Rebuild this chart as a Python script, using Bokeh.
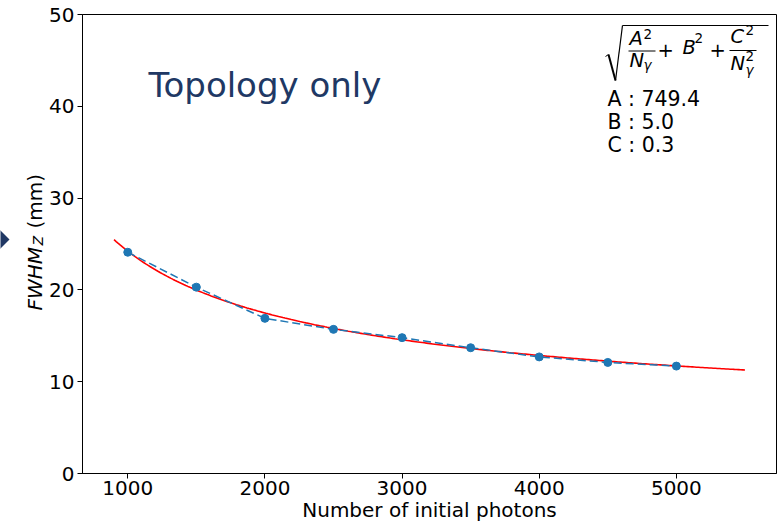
import numpy as np
from bokeh.plotting import figure
from bokeh.layouts import row
from bokeh.models import Range1d, FixedTicker, Label, PolyAnnotation
from bokeh.embed import file_html
from bokeh.resources import INLINE

# Measured resolution vs. number of initial photons
photons = [1000, 1500, 2000, 2500, 3000, 3500, 4000, 4500, 5000]
fwhm_z = [24.1, 20.3, 16.9, 15.7, 14.8, 13.7, 12.7, 12.1, 11.7]

# Fit parameters of sqrt(A^2/N + B^2 + C^2/N^2)
fit_A = 749.4
fit_B = 5.0
fit_C = 0.3
fit_start, fit_stop = 900, 5500

x_ticks = [1000, 2000, 3000, 4000, 5000]
y_ticks = [0, 10, 20, 30, 40, 50]

FONT = "DejaVu Sans"
NAVY = "#203864"
LIFT = 8  # baseline correction for alphabetic labels
SIDE_W = 46


def add_text(fig, text, x, y, size, italic=False, angle=0.0, align="left", color="black"):
    fig.add_layout(Label(x=x, y=y, x_units="screen", y_units="screen", text=text,
                         text_font=FONT, text_font_size=f"{size}px",
                         text_font_style="italic" if italic else "normal",
                         text_align=align, text_baseline="alphabetic",
                         angle=angle, text_color=color))


def add_stroke(fig, points, width=1.0, color="black", fill=None):
    xs = [pt[0] for pt in points]
    ys = [pt[1] for pt in points]
    fig.add_layout(PolyAnnotation(xs=xs, ys=ys, xs_units="screen", ys_units="screen",
                                  line_color=color if fill is None else None,
                                  line_alpha=1.0, line_width=width,
                                  fill_color=fill, fill_alpha=0 if fill is None else 1))


# ---- narrow strip on the left: y-axis title and slide arrow ----
# (its frame is aligned with the chart frame: same top and bottom)
side = figure(width=SIDE_W, height=525, output_backend="svg", toolbar_location=None,
              x_range=Range1d(0, SIDE_W), y_range=Range1d(0, 459),
              x_axis_location=None, y_axis_location=None, min_border=0)
side.outline_line_color = None
side.xgrid.visible = False
side.ygrid.visible = False
side.background_fill_color = "white"
side.border_fill_color = "white"

add_text(side, "FWHM", 42 - LIFT, 163, 20, italic=True, angle=np.pi / 2)
add_text(side, "Z", 45 - LIFT, 228, 14, italic=True, angle=np.pi / 2)
add_text(side, "(mm)", 42 - LIFT, 245, 20, angle=np.pi / 2)
add_stroke(side, [(-20, 263), (9, 234), (-20, 205)], fill=NAVY)

# ---- main chart ----
p = figure(width=784 - SIDE_W, height=525, output_backend="svg", toolbar_location=None,
           x_range=Range1d(670, 5730), y_range=Range1d(0, 50),
           min_border_left=82 - SIDE_W, min_border_right=8, min_border_top=14,
           min_border_bottom=52)
p.background_fill_color = "white"
p.border_fill_color = "white"
p.outline_line_color = "black"
p.outline_line_width = 1
p.xgrid.visible = False
p.ygrid.visible = False

for ax in (p.xaxis[0], p.yaxis[0]):
    ax.axis_line_color = "black"
    ax.major_tick_line_color = "black"
    ax.major_tick_out = 5
    ax.major_tick_in = 0
    ax.minor_tick_out = 0
    ax.minor_tick_in = 0
    ax.major_label_text_font = FONT
    ax.major_label_text_font_size = "20px"
    ax.major_label_text_color = "black"
p.xaxis[0].ticker = FixedTicker(ticks=x_ticks)
p.yaxis[0].ticker = FixedTicker(ticks=y_ticks)
p.xaxis[0].major_label_standoff = 2
p.yaxis[0].major_label_standoff = 3
p.xaxis[0].axis_label = "Number of initial photons"
p.xaxis[0].axis_label_text_font = FONT
p.xaxis[0].axis_label_text_font_size = "20px"
p.xaxis[0].axis_label_text_font_style = "normal"
p.xaxis[0].axis_label_text_color = "black"
p.xaxis[0].axis_label_standoff = 0

# fitted curve from the stated parameters
n_fit = np.linspace(fit_start, fit_stop, 300)
fwhm_fit = np.sqrt(fit_A ** 2 / n_fit + fit_B ** 2 + fit_C ** 2 / n_fit ** 2)
p.line(n_fit, fwhm_fit, line_color="#ff0000", line_width=1.6)

# measurements
p.line(photons, fwhm_z, line_color="#1f77b4", line_width=1.5, line_dash="8 4")
p.scatter(photons, fwhm_z, size=8, fill_color="#1f77b4", line_color="#1f77b4")

# slide caption
add_text(p, "Topology only", 66, 381 + LIFT, 34, color=NAVY)

# fit formula: radical sign
add_stroke(p, [(523, 417), (526, 419)], width=1.0)
add_stroke(p, [(526, 419), (533, 393)], width=2.0)
add_stroke(p, [(533, 393), (540, 448)], width=1.2)
add_stroke(p, [(540, 448), (686, 448)], width=1.0)

# first fraction A^2 / N_gamma
add_text(p, "A", 547, 427 + LIFT, 19.5, italic=True)
add_text(p, "2", 561, 432 + LIFT, 13.5)
add_stroke(p, [(546, 422.5), (573, 422.5)], width=1.0)
add_text(p, "N", 547, 405 + LIFT, 19.5, italic=True)
add_text(p, "γ", 561, 401 + LIFT, 13.5, italic=True)

add_text(p, "+", 575, 416 + LIFT, 19.5)
add_text(p, "B", 600, 418 + LIFT, 19.5, italic=True)
add_text(p, "2", 612, 428 + LIFT, 13.5)
add_text(p, "+", 627, 416 + LIFT, 19.5)

# second fraction C^2 / N_gamma^2
add_text(p, "C", 648, 429 + LIFT, 19.5, italic=True)
add_text(p, "2", 663, 436 + LIFT, 13.5)
add_stroke(p, [(647, 423), (674, 423)], width=1.0)
add_text(p, "N", 648, 402 + LIFT, 19.5, italic=True)
add_text(p, "2", 663, 410 + LIFT, 13.5)
add_text(p, "γ", 663, 396 + LIFT, 13.5, italic=True)

# fitted parameter values
add_text(p, f"A : {fit_A:.1f}", 525, 367 + LIFT, 20.5)
add_text(p, f"B : {fit_B:.1f}", 525, 344 + LIFT, 20.5)
add_text(p, f"C : {fit_C:.1f}", 525, 321 + LIFT, 20.5)

layout = row(side, p, spacing=0)
open("out.html", "w").write(file_html(layout, INLINE))
